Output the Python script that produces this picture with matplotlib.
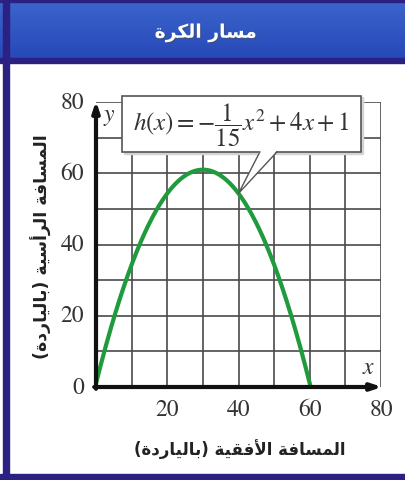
import numpy as np
import matplotlib.pyplot as plt
from matplotlib.patches import Rectangle, Polygon
import matplotlib.patheffects as pe

plt.rcParams['font.family'] = ['DejaVu Sans']
plt.rcParams['mathtext.fontset'] = 'stix'

title = "مسار الكرة"
x_label = "المسافة الأفقية (بالياردة)"
y_label = "المسافة الرأسية (بالياردة)"

# h(x) = a x^2 + b x + c
coef_a = -1 / 15
coef_b = 4
coef_c = 1
equation = r"$h(x) = -\dfrac{1}{15}x^2 + 4x + 1$"
callout_x = 40

x_ticks = [20, 40, 60, 80]
y_ticks = [0, 20, 40, 60, 80]
grid_step = 10
axis_max = 80

green = "#1f9a3c"
navy = "#2a2183"
grid_color = "#4a4a4a"

# --- minimal Arabic shaping (presentation forms) so the text joins correctly ---
FORMS = {
    'ا': (0xFE8D, 0xFE8E, None, None),
    'أ': (0xFE83, 0xFE84, None, None),
    'ب': (0xFE8F, 0xFE90, 0xFE91, 0xFE92),
    'ة': (0xFE93, 0xFE94, None, None),
    'د': (0xFEA9, 0xFEAA, None, None),
    'ر': (0xFEAD, 0xFEAE, None, None),
    'س': (0xFEB1, 0xFEB2, 0xFEB3, 0xFEB4),
    'ف': (0xFED1, 0xFED2, 0xFED3, 0xFED4),
    'ق': (0xFED5, 0xFED6, 0xFED7, 0xFED8),
    'ك': (0xFED9, 0xFEDA, 0xFEDB, 0xFEDC),
    'ل': (0xFEDD, 0xFEDE, 0xFEDF, 0xFEE0),
    'م': (0xFEE1, 0xFEE2, 0xFEE3, 0xFEE4),
    'ي': (0xFEF1, 0xFEF2, 0xFEF3, 0xFEF4),
    'لا': (0xFEFB, 0xFEFC, None, None),
    'لأ': (0xFEF7, 0xFEF8, None, None),
}


def shape(text):
    units = []
    i = 0
    while i < len(text):
        if text[i] == 'ل' and i + 1 < len(text) and text[i + 1] in 'اأ':
            units.append(text[i:i + 2])
            i += 2
        else:
            units.append(text[i])
            i += 1
    out = []
    for k, u in enumerate(units):
        if u not in FORMS:
            out.append(u)
            continue
        iso, fin, ini, med = FORMS[u]
        prev = units[k - 1] if k > 0 else None
        nxt = units[k + 1] if k + 1 < len(units) else None
        join_prev = prev in FORMS and FORMS[prev][2] is not None
        join_next = ini is not None and nxt in FORMS
        if join_prev and join_next:
            g = med
        elif join_prev:
            g = fin
        elif join_next:
            g = ini
        else:
            g = iso
        out.append(chr(g))
    vis = ''.join(out)[::-1]
    return vis.translate(str.maketrans('()', ')('))


W, H = 405, 481
fig = plt.figure(figsize=(W / 100, H / 100), dpi=100)

# frame and title band
bg = fig.add_axes([0, 0, 1, 1])
bg.set_xlim(0, W)
bg.set_ylim(H, 0)
bg.axis('off')
grad = np.linspace(0, 1, 60).reshape(-1, 1)
bg.imshow(grad, extent=(0, W, 62, 0), aspect='auto',
          cmap=plt.matplotlib.colors.LinearSegmentedColormap.from_list(
              "band", ["#3c66cc", "#2647b8"]), zorder=1)
bg.add_patch(Rectangle((0, 0), W, 3, color=navy, zorder=2))
bg.add_patch(Rectangle((0, 59), W, 5, color=navy, zorder=2))
bg.add_patch(Rectangle((3, 0), 6, H, color=navy, zorder=2))
bg.add_patch(Rectangle((0, 475), W, 6, color=navy, zorder=2))
bg.text(206, 34, shape(title), color="white", fontsize=13.5, fontweight="bold",
        ha="center", va="center", zorder=3,
        path_effects=[pe.withSimplePatchShadow(offset=(1, -1), alpha=0.45)])
bg.text(240, 449, shape(x_label), color="#222222", fontsize=12,
        fontweight="bold", ha="center", va="center")
bg.text(41, 247, shape(y_label), color="#222222", fontsize=12.5,
        fontweight="bold", ha="center", va="center", rotation=90)

# plot area
left, right, bottom, top = 96, 381, 388, 103
ax = fig.add_axes([left / W, 1 - bottom / H, (right - left) / W, (bottom - top) / H])
ax.set_xlim(0, axis_max)
ax.set_ylim(0, axis_max)
for s in ax.spines.values():
    s.set_visible(False)
ax.set_xticks([])
ax.set_yticks([])
ax.patch.set_alpha(0)

lines = np.arange(grid_step, axis_max + 1, grid_step)
ax.vlines(lines, 0, axis_max, color=grid_color, lw=1.2, zorder=1)
ax.hlines(lines, 0, axis_max, color=grid_color, lw=1.2, zorder=1)

# axes with arrowheads
arrow = dict(arrowstyle="-|>,head_length=0.6,head_width=0.2",
             color="#111111", lw=3, shrinkA=0, shrinkB=0)
ax.annotate("", xy=(axis_max + 0.3, 0), xytext=(-0.5, 0), annotation_clip=False,
            arrowprops=arrow, zorder=4)
ax.annotate("", xy=(0, axis_max + 0.3), xytext=(0, -0.5), annotation_clip=False,
            arrowprops=arrow, zorder=4)

ax.text(78.5, 2.5, r"$x$", fontsize=17, ha="right", va="bottom", color="#333333")
ax.text(2.0, 79.8, r"$y$", fontsize=17, ha="left", va="top", color="#333333")

for t in x_ticks:
    ax.text(t, -6.3, str(t), ha="center", va="center", fontsize=17,
            family="STIXGeneral", color="#333333")
for t in y_ticks:
    ax.text(-3.3, t, str(t), ha="right", va="center", fontsize=17,
            family="STIXGeneral", color="#333333")

# trajectory from x = 0 to where it comes back down to the ground
x_end = (-coef_b - np.sqrt(coef_b ** 2 - 4 * coef_a * coef_c)) / (2 * coef_a)
xs = np.linspace(0, x_end, 300)
hs = coef_a * xs ** 2 + coef_b * xs + coef_c
ax.plot(xs, np.clip(hs, 0, None), color=green, lw=3, zorder=3, solid_capstyle="round")

# callout box with pointer to the curve
tip_y = coef_a * callout_x ** 2 + coef_b * callout_x + coef_c
bx0, bx1, by0, by1 = 7.3, 74.5, 66.0, 81.8
ax.add_patch(Rectangle((bx0 + 0.5, by0 - 0.5), bx1 - bx0, by1 - by0, color="#d4d4d4",
                       zorder=4, clip_on=False))
ax.add_patch(Rectangle((bx0, by0), bx1 - bx0, by1 - by0, facecolor="white",
                       edgecolor="#555555", lw=1.2, zorder=5, clip_on=False))
p0, p1 = (46.0, by0), (50.8, by0)
ax.add_patch(Polygon([(p0[0], by0 + 0.4), (callout_x, tip_y), (p1[0], by0 + 0.4)],
                     closed=True, facecolor="white", edgecolor="none", zorder=6))
ax.plot([p0[0], callout_x, p1[0]], [by0, tip_y, by0], color="#555555", lw=1, zorder=6)
ax.text((bx0 + bx1) / 2, (by0 + by1) / 2 - 0.2, equation, fontsize=18,
        ha="center", va="center", color="#333333", zorder=7)

fig.savefig("out.png", dpi=100)
